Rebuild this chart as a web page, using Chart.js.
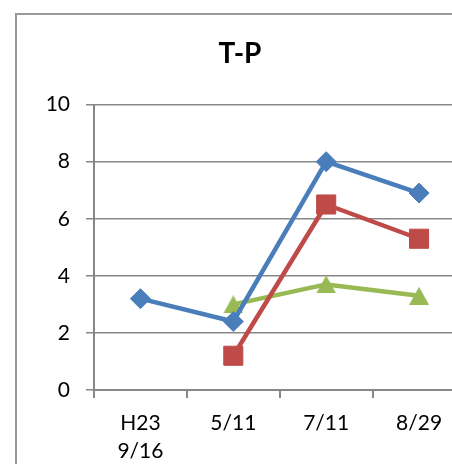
<!DOCTYPE html>
<html>
<head>
<meta charset="utf-8">
<script src="https://cdn.jsdelivr.net/npm/chart.js@4/dist/chart.umd.min.js"></script>
<style>
  html, body { margin: 0; padding: 0; background: #fff; overflow: hidden; }
  #wrap { position: relative; width: 452px; height: 464px; overflow: hidden; }
  #frame { position: absolute; left: 15px; top: 13px; width: 600px; height: 600px;
           border: 2px solid #9a9a9a; box-sizing: border-box; }
  canvas { position: absolute; left: 0; top: 0; }
</style>
</head>
<body>
<div id="wrap">
  <div id="frame"></div>
  <canvas id="c" width="480" height="464"></canvas>
</div>
<script>
const categories = [["H23", "9/16"], "5/11", "7/11", "8/29"];
const seriesBlue  = [3.2, 2.4, 8.0, 6.9];
const seriesRed   = [null, 1.2, 6.5, 5.3];
const seriesGreen = [null, 3.0, 3.7, 3.3];
const yTicks = [0, 2, 4, 6, 8, 10];

const FONT = "Lato, 'Open Sans', sans-serif";
const BLUE = '#4A7EBB', RED = '#BE4B48', GREEN = '#98B954', GRID = '#878787';

// triangle marker centred in its bounding box (Excel style)
const tri = document.createElement('canvas');
tri.width = 20; tri.height = 18;
(function () {
  const g = tri.getContext('2d');
  g.fillStyle = GREEN;
  g.beginPath(); g.moveTo(10, 0); g.lineTo(20, 18); g.lineTo(0, 18); g.closePath(); g.fill();
})();

new Chart(document.getElementById('c'), {
  type: 'line',
  data: {
    labels: categories,
    datasets: [
      { data: seriesBlue, borderColor: BLUE, backgroundColor: BLUE, borderWidth: 4.5,
        pointStyle: 'rectRot', pointRadius: 10, pointBorderWidth: 1, pointBorderColor: BLUE, pointBackgroundColor: BLUE,
        borderJoinStyle: 'round', borderCapStyle: 'round', tension: 0 },
      { data: seriesRed, borderColor: RED, backgroundColor: RED, borderWidth: 4.5,
        pointStyle: 'rect', pointRadius: 13.5, pointBorderWidth: 1, pointBorderColor: RED, pointBackgroundColor: RED,
        borderJoinStyle: 'round', borderCapStyle: 'round', tension: 0 },
      { data: seriesGreen, borderColor: GREEN, backgroundColor: GREEN, borderWidth: 4.5,
        pointStyle: tri, pointRadius: 10,
        borderJoinStyle: 'round', borderCapStyle: 'round', tension: 0 }
    ]
  },
  options: {
    responsive: false,
    animation: false,
    devicePixelRatio: 1,
    layout: { padding: { left: 0, right: 0, top: 0, bottom: 0 } },
    plugins: {
      legend: { display: false },
      tooltip: { enabled: false },
      title: {
        display: true, text: 'T-P', color: '#000',
        font: { family: FONT, size: 28, weight: 'bold', lineHeight: 1.2 },
        padding: { top: 37, bottom: 34 }
      }
    },
    scales: {
      x: {
        offset: true,
        grid: { display: true, drawOnChartArea: false, drawTicks: true, tickLength: 8, offset: true,
                color: GRID, lineWidth: 2 },
        border: { display: true, color: GRID, width: 2 },
        ticks: { color: '#000', padding: 12, maxRotation: 0, autoSkip: false,
                 font: { family: FONT, size: 21, lineHeight: 1.3 } },
        afterFit: s => { s.height = 74; }
      },
      y: {
        min: 0, max: 10,
        afterBuildTicks: s => { s.ticks = yTicks.map(v => ({ value: v })); },
        grid: { color: GRID, lineWidth: 1.5, tickLength: 8, drawTicks: true },
        border: { display: true, color: GRID, width: 2 },
        ticks: { color: '#000', padding: 16, font: { family: FONT, size: 21 } },
        afterFit: s => { s.width = 94; }
      }
    }
  }
});
</script>
</body>
</html>
